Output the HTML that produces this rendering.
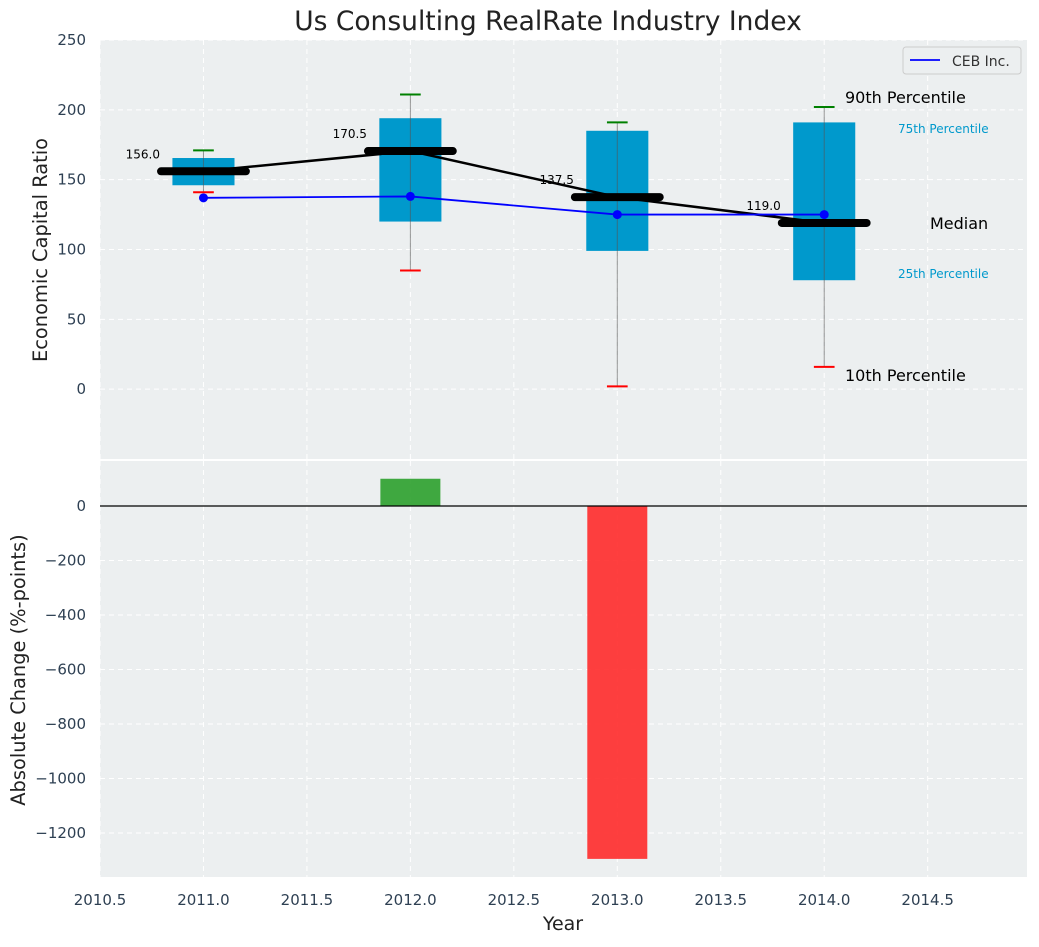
<!DOCTYPE html>
<html><head><meta charset="utf-8"><style>
body{margin:0;background:#fff;font-family:"Liberation Sans","DejaVu Sans",sans-serif}
svg text{font-family:"DejaVu Sans","Liberation Sans",sans-serif}
</style></head><body>
<svg id="chart" width="1039" height="942" xmlns="http://www.w3.org/2000/svg"></svg>
<script>
const years=[2011,2012,2013,2014];
const medians=[156.0,170.5,137.5,119.0];
const q25=[146,120,99,78];
const q75=[165.5,194,185,191];
const p10=[141,85,2,16];
const p90=[171,211,191,202];
const ceb=[137,138,125,125];
const changes=[0,100,-1295,0];
const xTicks=[2010.5,2011,2011.5,2012,2012.5,2013,2013.5,2014,2014.5];
const yTopTicks=[0,50,100,150,200,250];
const yBotTicks=[0,-200,-400,-600,-800,-1000,-1200];

const svg=document.getElementById('chart');
const NS='http://www.w3.org/2000/svg';
function mk(tag,attrs,parent){const e=document.createElementNS(NS,tag);for(const k in attrs)e.setAttribute(k,attrs[k]);(parent||svg).appendChild(e);return e;}
const L=100,R=1027;
const X=v=>L+(v-2010.5)*(R-L)/(2014.98-2010.5);
const T0=40,T1=459,Yt=v=>T0+(250-v)*(T1-T0)/300;
const B0=461,B1=877,Yb=v=>506+(0-v)*(833-506)/1200;
const tc='#2e4053';

function axesBg(y0,y1,name){const r=mk('rect',{x:L,y:y0,width:R-L,height:y1-y0,fill:'#eceff0'});}
axesBg(T0,T1,'top-plot-area');axesBg(B0,B1,'bottom-plot-area');

xTicks.forEach(t=>{
  [[T0,T1],[B0,B1]].forEach(([a,b])=>{const g=mk('line',{x1:X(t),x2:X(t),y1:a,y2:b,stroke:'#fff','stroke-dasharray':'5,4','stroke-width':1});});
  const tx=mk('text',{x:X(t),y:905,'text-anchor':'middle','font-size':15,fill:tc});tx.textContent=t.toFixed(1);
  
});
yTopTicks.forEach(t=>{
  const g=mk('line',{x1:L,x2:R,y1:Yt(t),y2:Yt(t),stroke:'#fff','stroke-dasharray':'5,4'});
  const tx=mk('text',{x:86,y:Yt(t)+5,'text-anchor':'end','font-size':15,fill:tc});tx.textContent=t;
  
});
yBotTicks.forEach(t=>{
  const g=mk('line',{x1:L,x2:R,y1:Yb(t),y2:Yb(t),stroke:'#fff','stroke-dasharray':'5,4'});
  const tx=mk('text',{x:86,y:Yb(t)+5,'text-anchor':'end','font-size':15,fill:tc});tx.textContent=t===0?'0':'\u2212'+(-t);
  
});

years.forEach((y,i)=>{
  const b=mk('rect',{x:X(y-0.15),y:Yt(q75[i]),width:X(y+0.15)-X(y-0.15),height:Yt(q25[i])-Yt(q75[i]),fill:'#0099cc'});
  
  const w=mk('line',{x1:X(y),x2:X(y),y1:Yt(p90[i]),y2:Yt(p10[i]),stroke:'#555','stroke-opacity':0.6,'stroke-width':1});
  
  const c1=mk('line',{x1:X(y-0.05),x2:X(y+0.05),y1:Yt(p90[i]),y2:Yt(p90[i]),stroke:'green','stroke-width':2});
  
  const c2=mk('line',{x1:X(y-0.05),x2:X(y+0.05),y1:Yt(p10[i]),y2:Yt(p10[i]),stroke:'red','stroke-width':2});
  
});
const mp=mk('polyline',{points:years.map((y,i)=>X(y)+','+Yt(medians[i])).join(' '),fill:'none',stroke:'#000','stroke-width':2.5});

years.forEach((y,i)=>{
  const m=mk('line',{x1:X(y-0.205),x2:X(y+0.205),y1:Yt(medians[i]),y2:Yt(medians[i]),stroke:'#000','stroke-width':8,'stroke-linecap':'round'});
  
  const t=mk('text',{x:X(y-0.21),y:Yt(medians[i])-13,'text-anchor':'end','font-size':12,fill:'#000'});t.textContent=medians[i].toFixed(1);
  
});
const cl=mk('polyline',{points:years.map((y,i)=>X(y)+','+Yt(ceb[i])).join(' '),fill:'none',stroke:'#0000ff','stroke-width':1.8});

years.forEach((y,i)=>{const p=mk('circle',{cx:X(y),cy:Yt(ceb[i]),r:4.5,fill:'#0000ff'});});

function txt(x,y,s,size,fill,name){const t=mk('text',{x:x,y:y,'font-size':size,fill:fill});t.textContent=s;}
txt(845,103,'90th Percentile',16,'#000','p90-annotation');
txt(898,133,'75th Percentile',12,'#0099cc','p75-annotation');
txt(930,229,'Median',16,'#000','median-annotation');
txt(898,278,'25th Percentile',12,'#0099cc','p25-annotation');
txt(845,381,'10th Percentile',16,'#000','p10-annotation');

const lg=mk('rect',{x:903,y:47,width:118,height:27,fill:'#eceff0',stroke:'#ccc',rx:3});
const ll=mk('line',{x1:910,x2:940,y1:60,y2:60,stroke:'#0000ff','stroke-width':1.8});
txt(952,66,'CEB Inc.',14,'#333','legend-entry');

years.forEach((y,i)=>{
  const v=changes[i];if(v===0)return;
  const b=mk('rect',{x:X(y-0.145),y:Math.min(Yb(0),Yb(v)),width:X(y+0.145)-X(y-0.145),height:Math.abs(Yb(v)-Yb(0)),fill:v>0?'#2ca02c':'#ff2a2a','fill-opacity':0.9});
  
});
const zl=mk('line',{x1:L,x2:R,y1:Yb(0),y2:Yb(0),stroke:'#000','stroke-width':1.2});

const ti=mk('text',{x:548,y:30,'text-anchor':'middle','font-size':26.5,fill:'#222'});ti.textContent='Us Consulting RealRate Industry Index';
const xt=mk('text',{x:563,y:930,'text-anchor':'middle','font-size':19,fill:'#222'});xt.textContent='Year';
const yt1=mk('text',{x:0,y:0,'text-anchor':'middle','font-size':19.4,fill:'#222',transform:'translate(47,250) rotate(-90)'});yt1.textContent='Economic Capital Ratio';
const yt2=mk('text',{x:0,y:0,'text-anchor':'middle','font-size':19.4,fill:'#222',transform:'translate(25,670) rotate(-90)'});yt2.textContent='Absolute Change (%-points)';
</script>
</body></html>
